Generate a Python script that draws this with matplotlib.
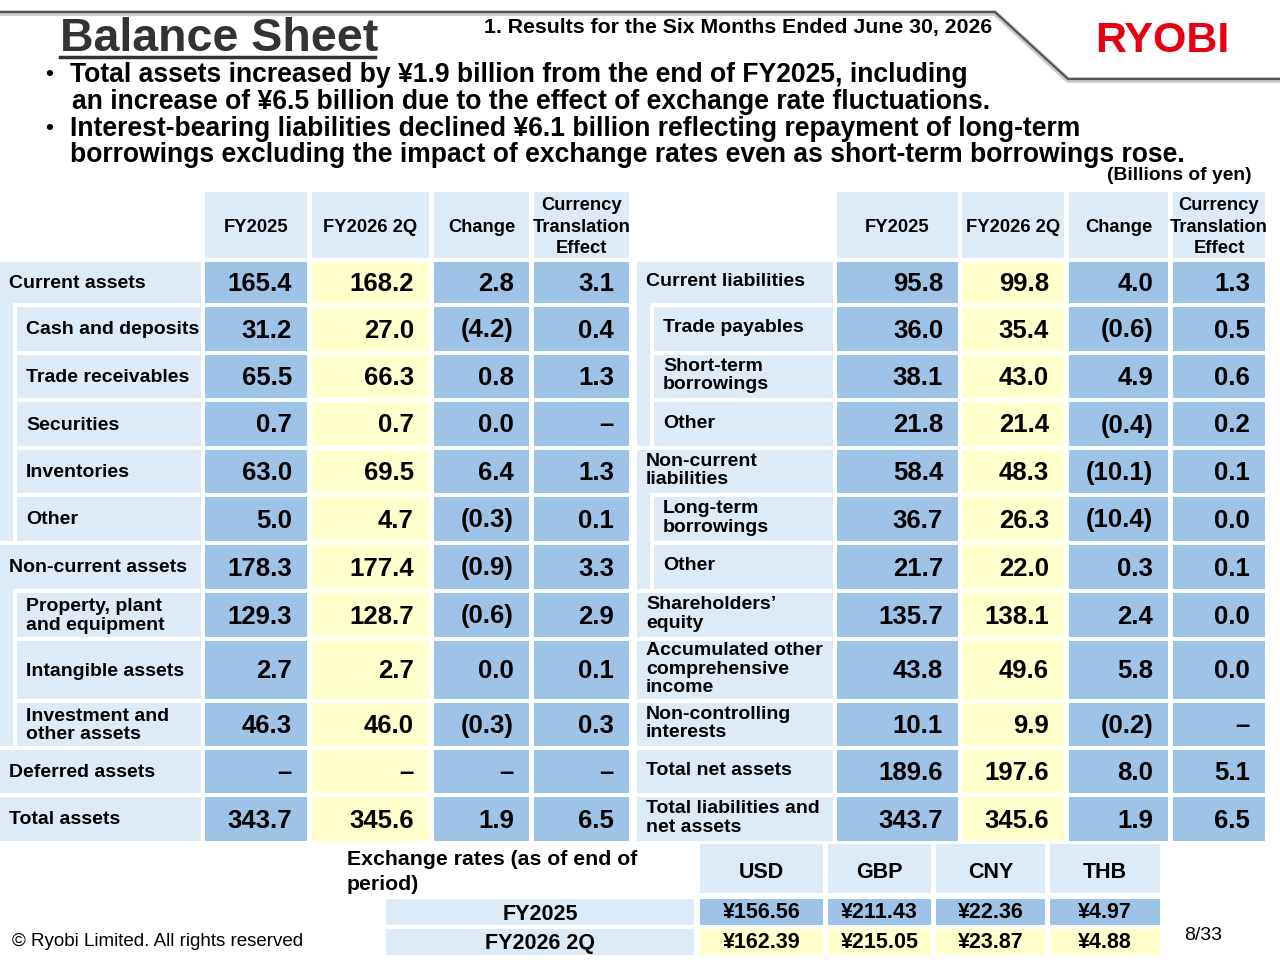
import matplotlib.pyplot as plt
from matplotlib import font_manager
from matplotlib.patches import Rectangle

# fonts
names = {f.name for f in font_manager.fontManager.ttflist}
FONT = 'Liberation Sans' if 'Liberation Sans' in names else 'DejaVu Sans'
plt.rcParams['font.family'] = [FONT, 'DejaVu Sans']

# colours
MID = '#9DC3E6'
LIGHT = '#DDEBF7'
YELLOW = '#FFFFCC'

# ---- data ----
col_headers = ['FY2025', 'FY2026 2Q', 'Change', 'Currency\nTranslation\nEffect']

asset_labels = ['Current assets', 'Cash and deposits', 'Trade receivables', 'Securities',
                'Inventories', 'Other', 'Non-current assets', 'Property, plant\nand equipment',
                'Intangible assets', 'Investment and\nother assets', 'Deferred assets', 'Total assets']
asset_level = [0, 1, 1, 1, 1, 1, 0, 1, 1, 1, 0, 0]
asset_fy2025 = [165.4, 31.2, 65.5, 0.7, 63.0, 5.0, 178.3, 129.3, 2.7, 46.3, None, 343.7]
asset_fy2026 = [168.2, 27.0, 66.3, 0.7, 69.5, 4.7, 177.4, 128.7, 2.7, 46.0, None, 345.6]
asset_change = [2.8, -4.2, 0.8, 0.0, 6.4, -0.3, -0.9, -0.6, 0.0, -0.3, None, 1.9]
asset_fx = [3.1, 0.4, 1.3, None, 1.3, 0.1, 3.3, 2.9, 0.1, 0.3, None, 6.5]

liab_labels = ['Current liabilities', 'Trade payables', 'Short-term\nborrowings', 'Other',
               'Non-current\nliabilities', 'Long-term\nborrowings', 'Other',
               'Shareholders\u2019\nequity', 'Accumulated other\ncomprehensive\nincome',
               'Non-controlling\ninterests', 'Total net assets', 'Total liabilities and\nnet assets']
liab_level = [0, 1, 1, 1, 0, 1, 1, 0, 0, 0, 0, 0]
liab_fy2025 = [95.8, 36.0, 38.1, 21.8, 58.4, 36.7, 21.7, 135.7, 43.8, 10.1, 189.6, 343.7]
liab_fy2026 = [99.8, 35.4, 43.0, 21.4, 48.3, 26.3, 22.0, 138.1, 49.6, 9.9, 197.6, 345.6]
liab_change = [4.0, -0.6, 4.9, -0.4, -10.1, -10.4, 0.3, 2.4, 5.8, -0.2, 8.0, 1.9]
liab_fx = [1.3, 0.5, 0.6, 0.2, 0.1, 0.0, 0.1, 0.0, 0.0, None, 5.1, 6.5]

fx_currencies = ['USD', 'GBP', 'CNY', 'THB']
fx_periods = ['FY2025', 'FY2026 2Q']
fx_rates = [[156.56, 211.43, 22.36, 4.97],
            [162.39, 215.05, 23.87, 4.88]]

bullets = [
    ('Total assets increased by \u00a51.9 billion from the end of FY2025, including',
     'an increase of \u00a56.5 billion due to the effect of exchange rate fluctuations.'),
    ('Interest-bearing liabilities declined \u00a56.1 billion reflecting repayment of long-term',
     'borrowings excluding the impact of exchange rates even as short-term borrowings rose.'),
]


def fmt(v):
    if v is None:
        return '\u2013'
    if v < 0:
        return '(%.1f)' % abs(v)
    return '%.1f' % v


# ---- layout (pixels) ----
fig = plt.figure(figsize=(12.8, 9.6), dpi=100)
ax = fig.add_axes([0, 0, 1, 1])
ax.set_xlim(0, 1280)
ax.set_ylim(960, 0)
ax.axis('off')


def box(x0, x1, y0, y1, color):
    ax.add_patch(Rectangle((x0, y0), x1 - x0, y1 - y0, facecolor=color, edgecolor='none'))


row_h = [41, 44, 43, 44, 43, 44, 44, 44, 58, 43, 43, 44]
row_top = []
y = 262
for h in row_h:
    row_top.append(y)
    y += h + 4
row_bot = [t + h for t, h in zip(row_top, row_h)]

fills = [MID, YELLOW, MID, MID]


def draw_table(lab_x0, lab_x1, cols, labels, level, series, lab_dy):
    # header
    for (c0, c1), head in zip(cols, col_headers):
        box(c0, c1, 192, 258, LIGHT)
        ax.text((c0 + c1) / 2, 227, head, ha='center', va='center', fontsize=13.2,
                fontweight='bold', linespacing=1.35)
    # strips joining sub-items to their group
    i = 0
    n = len(labels)
    while i < n:
        if level[i] == 0 and i + 1 < n and level[i + 1] == 1:
            j = i + 1
            while j < n and level[j] == 1:
                j += 1
            box(lab_x0, lab_x0 + 13, row_top[i], row_bot[j - 1], LIGHT)
            i = j
        else:
            i += 1
    for r, lab in enumerate(labels):
        t, b = row_top[r], row_bot[r]
        x0 = lab_x0 + (17 if level[r] else 0)
        box(x0, lab_x1, t, b, LIGHT)
        tx = lab_x0 + (26 if level[r] else 9)
        ax.text(tx, (t + b) / 2 + lab_dy, lab, ha='left', va='center', fontsize=14,
                fontweight='bold', linespacing=1.1)
        for k, ((c0, c1), s) in enumerate(zip(cols, series)):
            box(c0, c1, t, b, fills[k])
            ax.text(c1 - 15, (t + b) / 2 + 1.5, fmt(s[r]), ha='right', va='center',
                    fontsize=18.5, fontweight='bold')


left_cols = [(205, 307), (312, 429), (434, 529), (534, 629)]
right_cols = [(837, 958), (962, 1064), (1069, 1168), (1173, 1265)]

draw_table(0, 201, left_cols, asset_labels, asset_level,
           [asset_fy2025, asset_fy2026, asset_change, asset_fx], 1)
draw_table(637, 833, right_cols, liab_labels, liab_level,
           [liab_fy2025, liab_fy2026, liab_change, liab_fx], -1)

# ---- exchange rates ----
fx_cols = [(700, 823), (828, 931), (936, 1045), (1050, 1160)]
fx_rows = [(899, 925), (929, 955)]
ax.text(347, 872, 'Exchange rates (as of end of\nperiod)', ha='left', va='center',
        fontsize=15.3, fontweight='bold', linespacing=1.35)
for (c0, c1), cur in zip(fx_cols, fx_currencies):
    box(c0, c1, 844, 893, LIGHT)
    ax.text((c0 + c1) / 2, 872, cur, ha='center', va='center', fontsize=15.5,
            fontweight='bold')
for r, ((t, b), per) in enumerate(zip(fx_rows, fx_periods)):
    box(386, 694, t, b, LIGHT)
    ax.text(540, (t + b) / 2 + 2, per, ha='center', va='center', fontsize=15.5,
            fontweight='bold')
    for k, (c0, c1) in enumerate(fx_cols):
        box(c0, c1, t, b, MID if r == 0 else YELLOW)
        ax.text((c0 + c1) / 2, (t + b) / 2 + 1, '\u00a5%.2f' % fx_rates[r][k],
                ha='center', va='center', fontsize=15.5, fontweight='bold')

# ---- header area ----
ax.plot([0, 995, 1068, 1280], [13, 13, 80, 80], color='#c8c8c8', lw=4, solid_capstyle='butt', zorder=1)
ax.plot([0, 995, 1068, 1280], [12, 12, 79, 79], color='#555555', lw=1.6, zorder=2)
ax.text(60, 51, 'Balance Sheet', ha='left', va='baseline', fontsize=33.5,
        fontweight='bold', color='#333333')
ax.plot([60, 375], [57, 57], color='#333333', lw=2.5)
ax.text(484, 27, '1. Results for the Six Months Ended June 30, 2026', ha='left', va='center',
        fontsize=15.3, fontweight='bold')
ax.text(1162, 41, 'RYOBI', ha='center', va='center', fontsize=31, fontweight='bold',
        color='#E60012')

line_y = [75, 102, 129, 155]
k = 0
for first, second in bullets:
    ax.text(45, line_y[k], '\u2022', ha='left', va='center', fontsize=16, fontweight='bold')
    ax.text(70, line_y[k], first, ha='left', va='center', fontsize=19.1, fontweight='bold')
    ax.text(72 if k == 0 else 70, line_y[k + 1], second, ha='left', va='center',
            fontsize=19.1, fontweight='bold')
    k += 2

ax.text(1252, 176, '(Billions of yen)', ha='right', va='center', fontsize=13.9,
        fontweight='bold')
ax.text(12, 941, '\u00a9 Ryobi Limited. All rights reserved', ha='left', va='center',
        fontsize=13.5)
ax.text(1184, 936, '8/33', ha='left', va='center', fontsize=14)

fig.savefig('out.png', dpi=100)
